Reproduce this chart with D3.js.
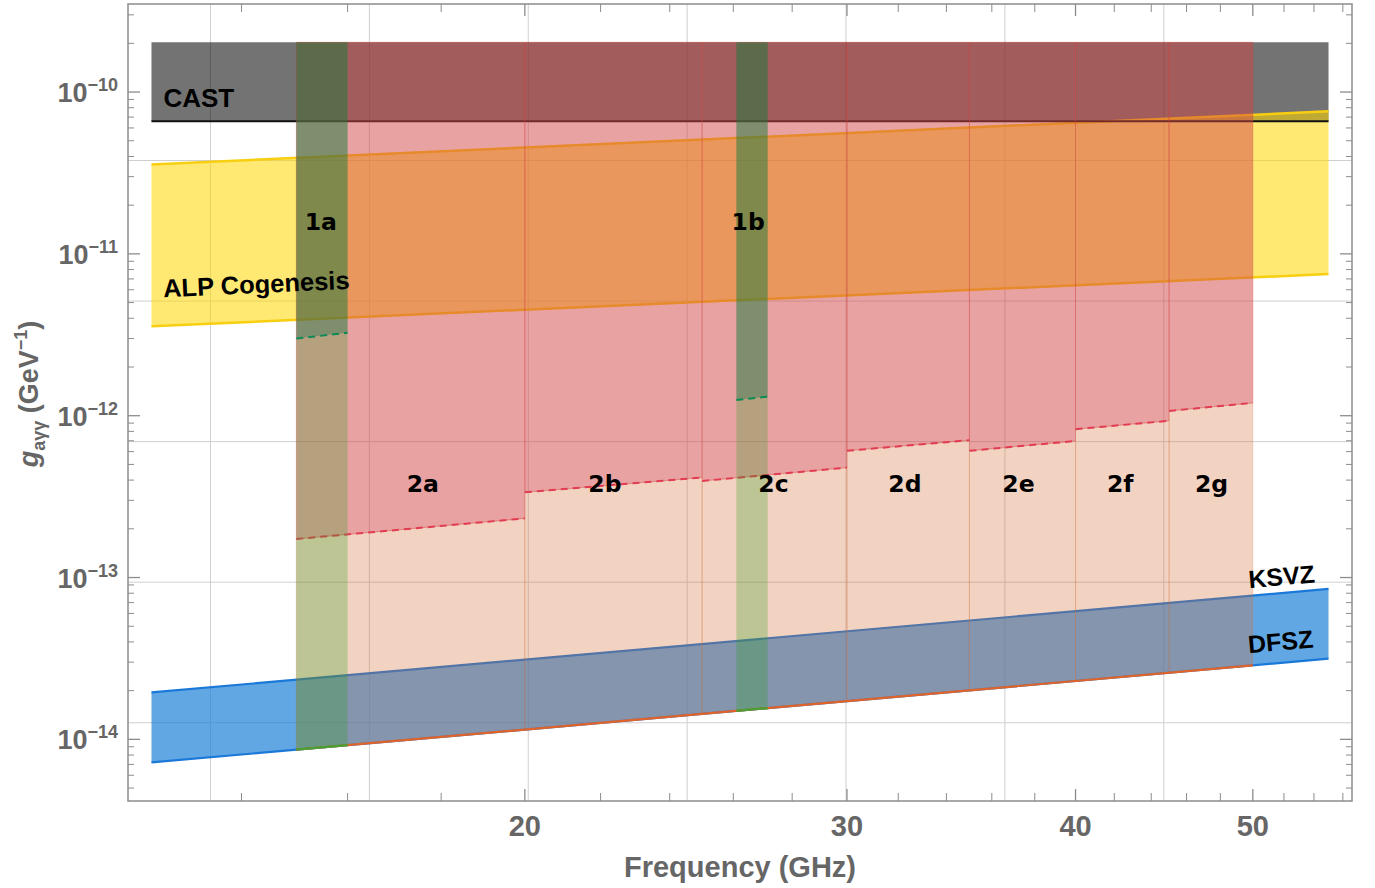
<!DOCTYPE html>
<html>
<head>
<meta charset="utf-8">
<script src="https://cdn.jsdelivr.net/npm/d3@7"></script>
<style>
  body { margin: 0; background: #fff; }
  text { font-family: "Liberation Sans", Arial, sans-serif; font-weight: bold; }
</style>
</head>
<body>
<svg id="chart" width="1375" height="888"></svg>
<script>
// ---- data (frequency in GHz, coupling in GeV^-1) ----
const freqRange = [12.5, 55]
const castTop = 2.03e-10
const castLimit = 6.6e-11
const alpUpper = [3.57e-11, 7.6e-11]
const alpLower = [3.57e-12, 7.5e-12]
const ksvz = [1.95e-14, 8.5e-14]
const dfsz = [7.2e-15, 3.15e-14]

const segNames = ['2a', '2b', '2c', '2d', '2e', '2f', '2g']
const segStart = [15, 20, 25, 30, 35, 40, 45]
const segEnd = [20, 25, 30, 35, 40, 45, 50]
const segLimStart = [1.73e-13, 3.36e-13, 3.95e-13, 6.07e-13, 6.07e-13, 8.26e-13, 1.07e-12]
const segLimEnd = [2.32e-13, 4.15e-13, 4.78e-13, 7.06e-13, 6.98e-13, 9.3e-13, 1.2e-12]
const segLabelFreq = [17.59, 22.12, 27.35, 32.27, 37.23, 42.32, 47.47]

const bandNames = ['1a', '1b']
const bandStart = [15, 26.1]
const bandEnd = [16, 27.15]
const bandLimStart = [3.0e-12, 1.25e-12]
const bandLimEnd = [3.25e-12, 1.31e-12]
const bandLabelFreq = [15.47, 26.49]

const xTickMajor = [20, 30, 40, 50]
const xTickMinor = [14, 16, 18, 22, 24, 26, 28, 32, 34, 36, 38, 42, 44, 46, 48, 52, 54, 56]
const yTickMajor = [1e-14, 1e-13, 1e-12, 1e-11, 1e-10]
const yTickExp = ['−14', '−13', '−12', '−11', '−10']
const gridLnFreq = [2.6, 2.8, 3.0, 3.2, 3.4, 3.6, 3.8]
const gridLnG = [-24, -26, -28, -30, -32]

// ---- scales ----
const svg = d3.select('#chart')
const x = d3.scaleLog().domain([12.136, 56.65]).range([128, 1352])
const y = d3.scaleLog().domain([4.16e-15, 3.5e-10]).range([801, 4])
const yMin = y.domain()[0]
const line = d3.line().x(d => x(d[0])).y(d => y(d[1]))
const poly = pts => line(pts) + 'Z'

const defs = svg.append('defs')
defs.append('clipPath').attr('id', 'plotClip').append('rect')
  .attr('x', 128).attr('y', 4).attr('width', 1224).attr('height', 797)
defs.append('clipPath').attr('id', 'aboveDfsz').append('path')
  .attr('d', poly([[freqRange[0], dfsz[0]], [freqRange[1], dfsz[1]], [freqRange[1], castTop], [freqRange[0], castTop]]))
const segClip = defs.append('clipPath').attr('id', 'segClip')
segClip.append('rect').attr('x', x(segStart[0])).attr('y', 0)
  .attr('width', x(segEnd[6]) - x(segStart[0])).attr('height', 888)
const bandClip = defs.append('clipPath').attr('id', 'bandClip')
bandNames.forEach((n, i) => {
  bandClip.append('rect').attr('x', x(bandStart[i])).attr('y', 0)
    .attr('width', x(bandEnd[i]) - x(bandStart[i])).attr('height', 888)
})

const g = svg.append('g').attr('clip-path', 'url(#plotClip)')

// grid
g.append('g').selectAll('line').data(gridLnFreq).join('line')
  .attr('x1', d => x(Math.exp(d))).attr('x2', d => x(Math.exp(d)))
  .attr('y1', 4).attr('y2', 801)
  .attr('stroke', '#cfcfcf').attr('stroke-width', 1)
g.append('g').selectAll('line').data(gridLnG).join('line')
  .attr('y1', d => y(Math.exp(d))).attr('y2', d => y(Math.exp(d)))
  .attr('x1', 128).attr('x2', 1352)
  .attr('stroke', '#cfcfcf').attr('stroke-width', 1)

// CAST
g.append('path')
  .attr('d', poly([[freqRange[0], castTop], [freqRange[1], castTop], [freqRange[1], castLimit], [freqRange[0], castLimit]]))
  .attr('fill', 'rgba(0,0,0,0.55)')

// ALP cogenesis
g.append('path')
  .attr('d', poly([[freqRange[0], alpUpper[0]], [freqRange[1], alpUpper[1]], [freqRange[1], alpLower[1]], [freqRange[0], alpLower[0]]]))
  .attr('fill', 'rgba(255,215,0,0.55)')
g.append('path').attr('d', line([[freqRange[0], alpUpper[0]], [freqRange[1], alpUpper[1]]]))
  .attr('stroke', '#f8cf10').attr('stroke-width', 2.5).attr('fill', 'none')
g.append('path').attr('d', line([[freqRange[0], alpLower[0]], [freqRange[1], alpLower[1]]]))
  .attr('stroke', '#f8cf10').attr('stroke-width', 2.5).attr('fill', 'none')

// CAST limit line
g.append('path').attr('d', line([[freqRange[0], castLimit], [freqRange[1], castLimit]]))
  .attr('stroke', '#111').attr('stroke-width', 1.8).attr('fill', 'none')

// QCD axion band
g.append('path')
  .attr('d', poly([[freqRange[0], ksvz[0]], [freqRange[1], ksvz[1]], [freqRange[1], dfsz[1]], [freqRange[0], dfsz[0]]]))
  .attr('fill', 'rgba(30,130,215,0.7)')
g.append('path').attr('d', line([[freqRange[0], ksvz[0]], [freqRange[1], ksvz[1]]]))
  .attr('stroke', '#1a78d8').attr('stroke-width', 2.2).attr('fill', 'none')
g.append('path').attr('d', line([[freqRange[0], dfsz[0]], [freqRange[1], dfsz[1]]]))
  .attr('stroke', '#1a78d8').attr('stroke-width', 2.2).attr('fill', 'none')

// phase 2 segments: lighter region down to DFSZ, red region above the limit
const segs = segNames.map((n, i) => ({ n, s: segStart[i], e: segEnd[i], ls: segLimStart[i], le: segLimEnd[i], lf: segLabelFreq[i] }))
g.append('g').attr('clip-path', 'url(#aboveDfsz)').selectAll('path').data(segs).join('path')
  .attr('d', d => poly([[d.s, d.ls], [d.e, d.le], [d.e, yMin], [d.s, yMin]]))
  .attr('fill', 'rgba(213,110,55,0.31)')
  .attr('stroke', 'rgba(213,110,55,0.25)').attr('stroke-width', 1)
g.append('path').attr('clip-path', 'url(#segClip)')
  .attr('d', line([[freqRange[0], dfsz[0]], [freqRange[1], dfsz[1]]]))
  .attr('stroke', '#e0632a').attr('stroke-width', 2.2).attr('fill', 'none')
g.append('g').selectAll('path').data(segs).join('path')
  .attr('d', d => poly([[d.s, castTop], [d.e, castTop], [d.e, d.le], [d.s, d.ls]]))
  .attr('fill', 'rgba(212,70,70,0.5)')
  .attr('stroke', 'rgba(212,70,70,0.35)').attr('stroke-width', 1)
g.append('g').selectAll('path').data(segs).join('path')
  .attr('d', d => line([[d.s, d.ls], [d.e, d.le]]))
  .attr('stroke', '#e23c55').attr('stroke-width', 2).attr('stroke-dasharray', '7,5').attr('fill', 'none')

// phase 1 bands
const bands = bandNames.map((n, i) => ({ n, s: bandStart[i], e: bandEnd[i], ls: bandLimStart[i], le: bandLimEnd[i], lf: bandLabelFreq[i] }))
g.append('g').attr('clip-path', 'url(#aboveDfsz)').selectAll('path').data(bands).join('path')
  .attr('d', d => poly([[d.s, d.ls], [d.e, d.le], [d.e, yMin], [d.s, yMin]]))
  .attr('fill', 'rgba(33,160,20,0.25)')
g.append('g').selectAll('path').data(bands).join('path')
  .attr('d', d => poly([[d.s, castTop], [d.e, castTop], [d.e, d.le], [d.s, d.ls]]))
  .attr('fill', 'rgba(21,124,58,0.5)')
g.append('g').selectAll('path').data(bands).join('path')
  .attr('d', d => line([[d.s, d.ls], [d.e, d.le]]))
  .attr('stroke', '#0b8a55').attr('stroke-width', 2).attr('stroke-dasharray', '7,5').attr('fill', 'none')
g.append('path').attr('clip-path', 'url(#bandClip)')
  .attr('d', line([[freqRange[0], dfsz[0]], [freqRange[1], dfsz[1]]]))
  .attr('stroke', '#4aa032').attr('stroke-width', 2.2).attr('fill', 'none')

// labels
const lab = svg.append('g').attr('fill', '#000')
lab.append('text').attr('x', x(12.69)).attr('y', y(8.03e-11)).attr('font-size', 26).text('CAST')
lab.append('text').attr('font-size', 25.5)
  .attr('transform', `translate(${x(12.69)},${y(5.39e-12)}) rotate(-2.6)`).text('ALP Cogenesis')
lab.append('text').attr('font-size', 25)
  .attr('transform', `translate(${x(49.77)},${y(8.6e-14)}) rotate(-5)`).text('KSVZ')
lab.append('text').attr('font-size', 25)
  .attr('transform', `translate(${x(49.75)},${y(3.41e-14)}) rotate(-5)`).text('DFSZ')
lab.selectAll('.seg').data(segs.concat(bands)).join('text')
  .attr('x', d => x(d.lf))
  .attr('y', d => d.n[0] === '2' ? y(3.37e-13) : y(1.4e-11))
  .attr('text-anchor', 'middle').attr('font-size', 23.5)
  .style('font-family', '"DejaVu Sans", sans-serif')
  .text(d => d.n)

// frame and ticks
const ax = svg.append('g').attr('stroke', '#8c8c8c').attr('fill', 'none')
ax.append('rect').attr('x', 128).attr('y', 4).attr('width', 1224).attr('height', 797).attr('stroke-width', 1.5)
const yMinor = []
for (let e = -15; e <= -10; e++) for (let m = 2; m <= 9; m++) {
  const v = m * Math.pow(10, e)
  if (v > y.domain()[0] && v < y.domain()[1]) yMinor.push(v)
}
yTickMajor.forEach(v => {
  ax.append('line').attr('x1', 128).attr('x2', 140).attr('y1', y(v)).attr('y2', y(v)).attr('stroke-width', 1.3)
  ax.append('line').attr('x1', 1340).attr('x2', 1352).attr('y1', y(v)).attr('y2', y(v)).attr('stroke-width', 1.3)
})
yMinor.forEach(v => {
  ax.append('line').attr('x1', 128).attr('x2', 134).attr('y1', y(v)).attr('y2', y(v))
  ax.append('line').attr('x1', 1346).attr('x2', 1352).attr('y1', y(v)).attr('y2', y(v))
})
xTickMajor.forEach(v => {
  ax.append('line').attr('x1', x(v)).attr('x2', x(v)).attr('y1', 801).attr('y2', 789).attr('stroke-width', 1.3)
  ax.append('line').attr('x1', x(v)).attr('x2', x(v)).attr('y1', 4).attr('y2', 16).attr('stroke-width', 1.3)
})
xTickMinor.forEach(v => {
  ax.append('line').attr('x1', x(v)).attr('x2', x(v)).attr('y1', 801).attr('y2', 793)
  ax.append('line').attr('x1', x(v)).attr('x2', x(v)).attr('y1', 4).attr('y2', 12)
})

// tick labels
const tl = svg.append('g').attr('fill', '#666')
tl.selectAll('.xl').data(xTickMajor).join('text')
  .attr('x', d => x(d)).attr('y', 836).attr('text-anchor', 'middle').attr('font-size', 29)
  .text(d => d)
yTickMajor.forEach((v, i) => {
  const t = tl.append('text').attr('x', 118).attr('y', y(v) + 10).attr('text-anchor', 'end').attr('font-size', 27)
  t.append('tspan').text('10')
  t.append('tspan').attr('dy', -11).attr('font-size', 18).text(yTickExp[i])
})
tl.append('text').attr('x', 740).attr('y', 877).attr('text-anchor', 'middle').attr('font-size', 29).text('Frequency (GHz)')
const yt = tl.append('text').attr('transform', 'translate(38,394) rotate(-90)').attr('text-anchor', 'middle').attr('font-size', 27)
yt.append('tspan').attr('font-style', 'italic').text('g')
yt.append('tspan').attr('dy', 7).attr('font-size', 18).text('aγγ')
yt.append('tspan').attr('dy', -7).text(' (GeV')
yt.append('tspan').attr('dy', -11).attr('font-size', 18).text('−1')
yt.append('tspan').attr('dy', 11).text(')')
</script>
</body>
</html>
